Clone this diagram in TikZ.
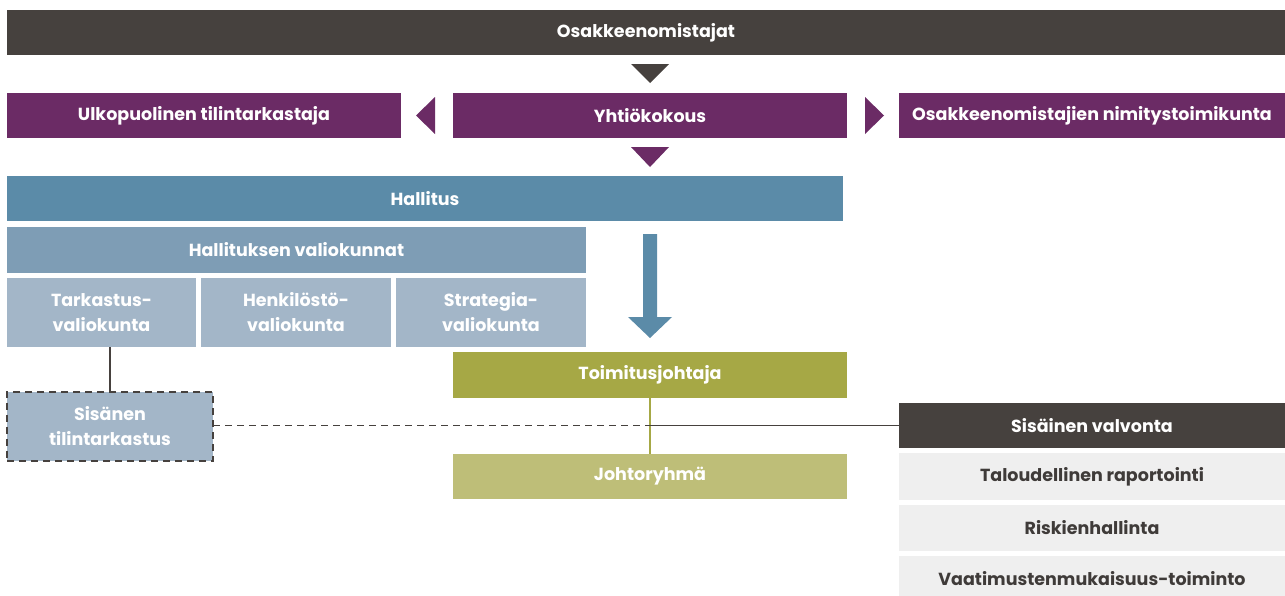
\documentclass[tikz,border=0pt]{standalone}
\usepackage{fontspec}
\setmainfont{Poppins}
\definecolor{cdark}{HTML}{46413E}
\definecolor{cpurple}{HTML}{6B2B65}
\definecolor{cblue}{HTML}{5B8BA8}
\definecolor{cblueb}{HTML}{7E9DB5}
\definecolor{cbluec}{HTML}{A3B6C8}
\definecolor{colive}{HTML}{A6A845}
\definecolor{colivel}{HTML}{BEBE78}
\definecolor{cgray}{HTML}{EFEFEF}
\definecolor{ctext}{HTML}{3F3B39}
\begin{document}
\begin{tikzpicture}[x=1pt,y=-1pt,
  box/.style={rectangle,inner sep=0pt,outer sep=0pt,font=\fontsize{17.5}{25}\selectfont\bfseries,text=white,align=center},
  gbox/.style={box,fill=cgray,text=ctext}]
\clip (0,0) rectangle (1285,595);
\fill[white] (0,0) rectangle (1285,595);
% boxes
\node[box,fill=cdark,minimum width=1278,minimum height=45] (top) at (646,32.5) {Osakkeenomistajat};
\node[box,fill=cpurple,minimum width=394,minimum height=45] (ulko) at (204,115.5) {Ulkopuolinen tilintarkastaja};
\node[box,fill=cpurple,minimum width=394,minimum height=45] (yhtio) at (650,115.5) {Yhtiökokous};
\node[box,fill=cpurple,minimum width=386,minimum height=45] (nimi) at (1092,115.5) {Osakkeenomistajien nimitystoimikunta};
\node[box,fill=cblue,minimum width=836,minimum height=45] (hall) at (425,198.5) {Hallitus};
\node[box,fill=cblueb,minimum width=579,minimum height=46] (valio) at (296.5,250) {Hallituksen valiokunnat};
\node[box,fill=cbluec,minimum width=189,minimum height=69] (tark) at (101.5,312.5) {Tarkastus-\\valiokunta};
\node[box,fill=cbluec,minimum width=190,minimum height=69] (henk) at (296,312.5) {Henkilöstö-\\valiokunta};
\node[box,fill=cbluec,minimum width=190,minimum height=69] (strat) at (491,312.5) {Strategia-\\valiokunta};
\node[box,fill=colive,minimum width=394,minimum height=46] (toim) at (650,375) {Toimitusjohtaja};
\node[box,fill=colivel,minimum width=394,minimum height=45] (johto) at (650,476.5) {Johtoryhmä};
\node[box,fill=cbluec,draw=cdark,line width=2,dash pattern=on 7 off 5,minimum width=206,minimum height=69] (sistil) at (110,426) {Sisänen\\tilintarkastus};
\node[box,fill=cdark,minimum width=386,minimum height=45] (valv) at (1092,425.5) {Sisäinen valvonta};
\node[gbox,minimum width=386,minimum height=47] (talo) at (1092,476.5) {Taloudellinen raportointi};
\node[gbox,minimum width=386,minimum height=46] (risk) at (1092,528) {Riskienhallinta};
\node[gbox,minimum width=386,minimum height=45] (vaat) at (1092,578.5) {Vaatimustenmukaisuus-toiminto};
% triangles
\fill[cdark] (631,64) -- (669,64) -- (650,83) -- cycle;
\fill[cpurple] (631,147) -- (669,147) -- (650,167) -- cycle;
\fill[cpurple] (435,97) -- (435,134) -- (416,115.5) -- cycle;
\fill[cpurple] (865,97) -- (865,134) -- (884,115.5) -- cycle;
% big arrow
\fill[cblue] (643,234) -- (657,234) -- (657,317) -- (672,317) -- (650,338) -- (628,317) -- (643,317) -- cycle;
% connectors
\coordinate (j) at (toim.south |- valv.west);
\draw[colive,line width=1.5] (toim.south) -- (johto.north);
\draw[cdark,line width=2] (sistil.north) -- (sistil.north |- tark.south);
\draw[cdark,line width=1.8,dash pattern=on 7 off 5] (sistil.east |- j) -- (j);
\draw[cdark,line width=1.8] (j) -- (valv.west);
\end{tikzpicture}
\end{document}
